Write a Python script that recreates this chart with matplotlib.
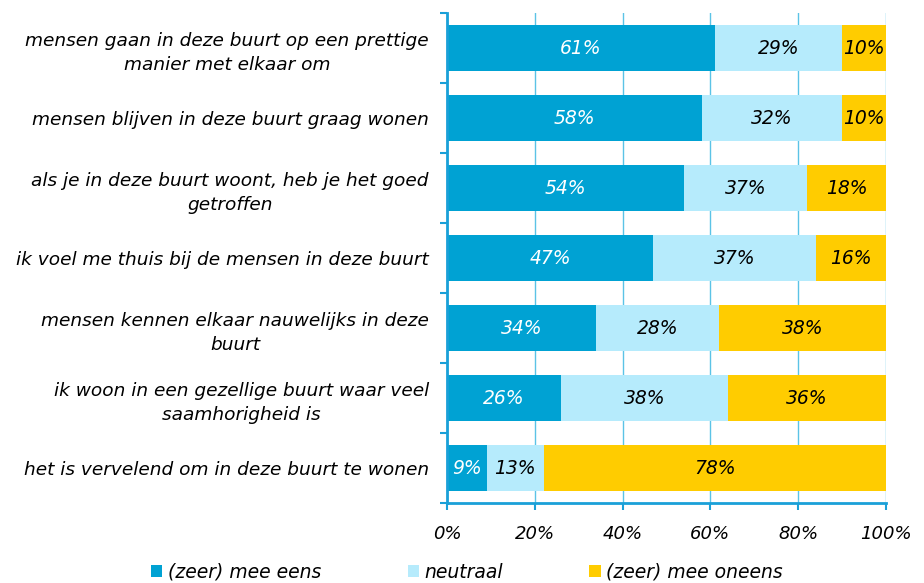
import matplotlib
matplotlib.use("Agg")
import matplotlib.pyplot as plt
from matplotlib.patches import Patch

categories = [
    "mensen gaan in deze buurt op een prettige\nmanier met elkaar om",
    "mensen blijven in deze buurt graag wonen",
    "als je in deze buurt woont, heb je het goed\ngetroffen",
    "ik voel me thuis bij de mensen in deze buurt",
    "mensen kennen elkaar nauwelijks in deze\nbuurt",
    "ik woon in een gezellige buurt waar veel\nsaamhorigheid is",
    "het is vervelend om in deze buurt te wonen",
]
series_names = ["(zeer) mee eens", "neutraal", "(zeer) mee oneens"]
# segment widths as drawn in the picture
eens = [61, 58, 54, 47, 34, 26, 9]
neutraal = [29, 32, 28, 37, 28, 38, 13]
oneens = [10, 10, 18, 16, 38, 36, 78]
# labels as printed on the bars
eens_lbl = ["61%", "58%", "54%", "47%", "34%", "26%", "9%"]
neutraal_lbl = ["29%", "32%", "37%", "37%", "28%", "38%", "13%"]
oneens_lbl = ["10%", "10%", "18%", "16%", "38%", "36%", "78%"]

colors = ["#00A2D3", "#B6EBFC", "#FFCC00"]
text_colors = ["white", "black", "black"]
axis_col = "#1AA0D8"

plt.rcParams["font.family"] = "DejaVu Sans"
plt.rcParams["font.style"] = "italic"

fig = plt.figure(figsize=(9.24, 5.83), dpi=100)
ax = fig.add_axes([447 / 924, 1 - 503 / 583, (886 - 447) / 924, (503 - 13) / 583])

y = list(range(len(categories)))
left = [0] * len(categories)
for vals, lbls, col, tcol, name in zip([eens, neutraal, oneens],
                                       [eens_lbl, neutraal_lbl, oneens_lbl],
                                       colors, text_colors, series_names):
    bars = ax.barh(y, vals, left=left, height=0.67, color=col, label=name, zorder=2)
    for b, lab in zip(bars, lbls):
        ax.text(b.get_x() + b.get_width() / 2, b.get_y() + b.get_height() / 2, lab,
                ha="center", va="center", color=tcol, fontsize=13.5, style="italic")
    left = [l + v for l, v in zip(left, vals)]

ax.set_ylim(len(categories) - 0.5, -0.5)
ax.set_xlim(0, 100)
ax.set_xticks([0, 20, 40, 60, 80, 100])
ax.set_xticklabels(["0%", "20%", "40%", "60%", "80%", "100%"], fontsize=13, style="italic")
ax.set_yticks(y)
ax.set_yticklabels(categories, fontsize=13.3, style="italic", multialignment="center",
                   linespacing=1.4)
ax.set_yticks([i - 0.5 for i in range(len(categories) + 1)], minor=True)
ax.tick_params(axis="y", which="major", length=0, pad=13)
ax.tick_params(axis="y", which="minor", length=5, width=1.5, color=axis_col)
ax.tick_params(axis="x", length=5, width=1.5, color=axis_col, pad=11)

ax.grid(axis="x", color="#5BC3E6", linewidth=1, zorder=0)
for s in ["top", "right"]:
    ax.spines[s].set_visible(False)
for s in ["left", "bottom"]:
    ax.spines[s].set_color(axis_col)
    ax.spines[s].set_linewidth(2)

handles = [Patch(facecolor=c, edgecolor="none") for c in colors]
fig.legend(handles, series_names, loc="center", bbox_to_anchor=(0.5 + 5 / 924, 1 - 572 / 583),
           ncol=3, frameon=False, fontsize=13.5, handlelength=0.6, handleheight=0.6,
           handletextpad=0.3, columnspacing=4.6)

fig.savefig("out.png", dpi=100)
